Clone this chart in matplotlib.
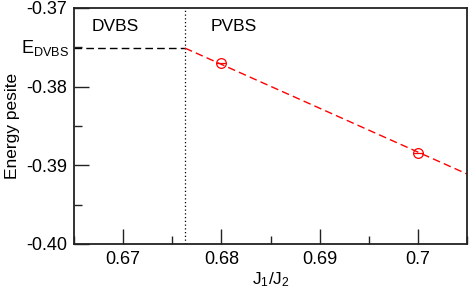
#!/usr/bin/env python3
# Energy per site across the DVBS -> PVBS transition vs J1/J2.

import matplotlib
matplotlib.use("Agg")
from matplotlib import pyplot as plt
from matplotlib.ticker import MultipleLocator

plt.rcParams["font.family"] = ["Liberation Sans", "DejaVu Sans"]
plt.rcParams["mathtext.fontset"] = "custom"
plt.rcParams["mathtext.rm"] = "Liberation Sans"
plt.rcParams["mathtext.it"] = "Liberation Sans"

# PVBS data points
j_ratio = [0.68, 0.70]
energy = [-0.3770, -0.3884]

# DVBS energy level and transition point
e_dvbs = -0.3751
j_transition = 0.6763

fit_x = [0.6763, 0.705]
fit_y = [-0.3751, -0.3911]

FS = 13

fig = plt.figure(figsize=(4.71, 2.93), dpi=100)
ax = fig.add_axes([74 / 471, 49 / 293, 393 / 471, 236 / 293])

ax.plot([0.665, j_transition], [e_dvbs, e_dvbs], color="black", lw=1.0,
        dashes=(5.5, 3))
ax.axvline(j_transition, color="black", lw=0.9, ls=(0, (1, 2)))
ax.plot(fit_x, fit_y, color="red", lw=1.0, dashes=(5.5, 3))
ax.plot(j_ratio, energy, ls="none", marker="o", ms=7, mfc="none", mec="red",
        mew=0.9)
ax.plot(j_ratio, energy, ls="none", marker="_", ms=7, mec="red", mew=0.9)

ax.set_xlim(0.665, 0.705)
ax.set_ylim(-0.40, -0.37)
ax.xaxis.set_major_locator(MultipleLocator(0.01))
ax.xaxis.set_minor_locator(MultipleLocator(0.005))
ax.yaxis.set_major_locator(MultipleLocator(0.01))
ax.yaxis.set_minor_locator(MultipleLocator(0.005))
ax.set_xticks([0.67, 0.68, 0.69, 0.70])
ax.set_xticklabels(["0.67", "0.68", "0.69", "0.7"])
ax.set_yticks([-0.40, -0.39, -0.38, -0.37])
ax.set_yticklabels(["-0.40", "-0.39", "-0.38", "-0.37"])
ax.tick_params(which="both", direction="in", top=False, right=False,
               labelsize=FS, width=1.0, color="#222222")
ax.tick_params(which="major", length=11, pad=5)
ax.tick_params(which="minor", length=5.5)
for s in ax.spines.values():
    s.set_linewidth(1.3)
    s.set_color("#222222")

ax.text(-0.012, e_dvbs, r"E$_{\rm DVBS}$", transform=ax.get_yaxis_transform(),
        ha="right", va="center", fontsize=FS)
ax.text(0.6668, -0.3723, "DVBS", fontsize=12.5, ha="left", va="center")
ax.text(0.6813, -0.3723, "PVBS", fontsize=12.5, ha="center", va="center")

ax.set_xlabel(r"J$_1$/J$_2$", fontsize=12.5, labelpad=2)
ax.set_ylabel("Energy pesite", fontsize=12.5, labelpad=4)

fig.savefig("out.png", dpi=100)
